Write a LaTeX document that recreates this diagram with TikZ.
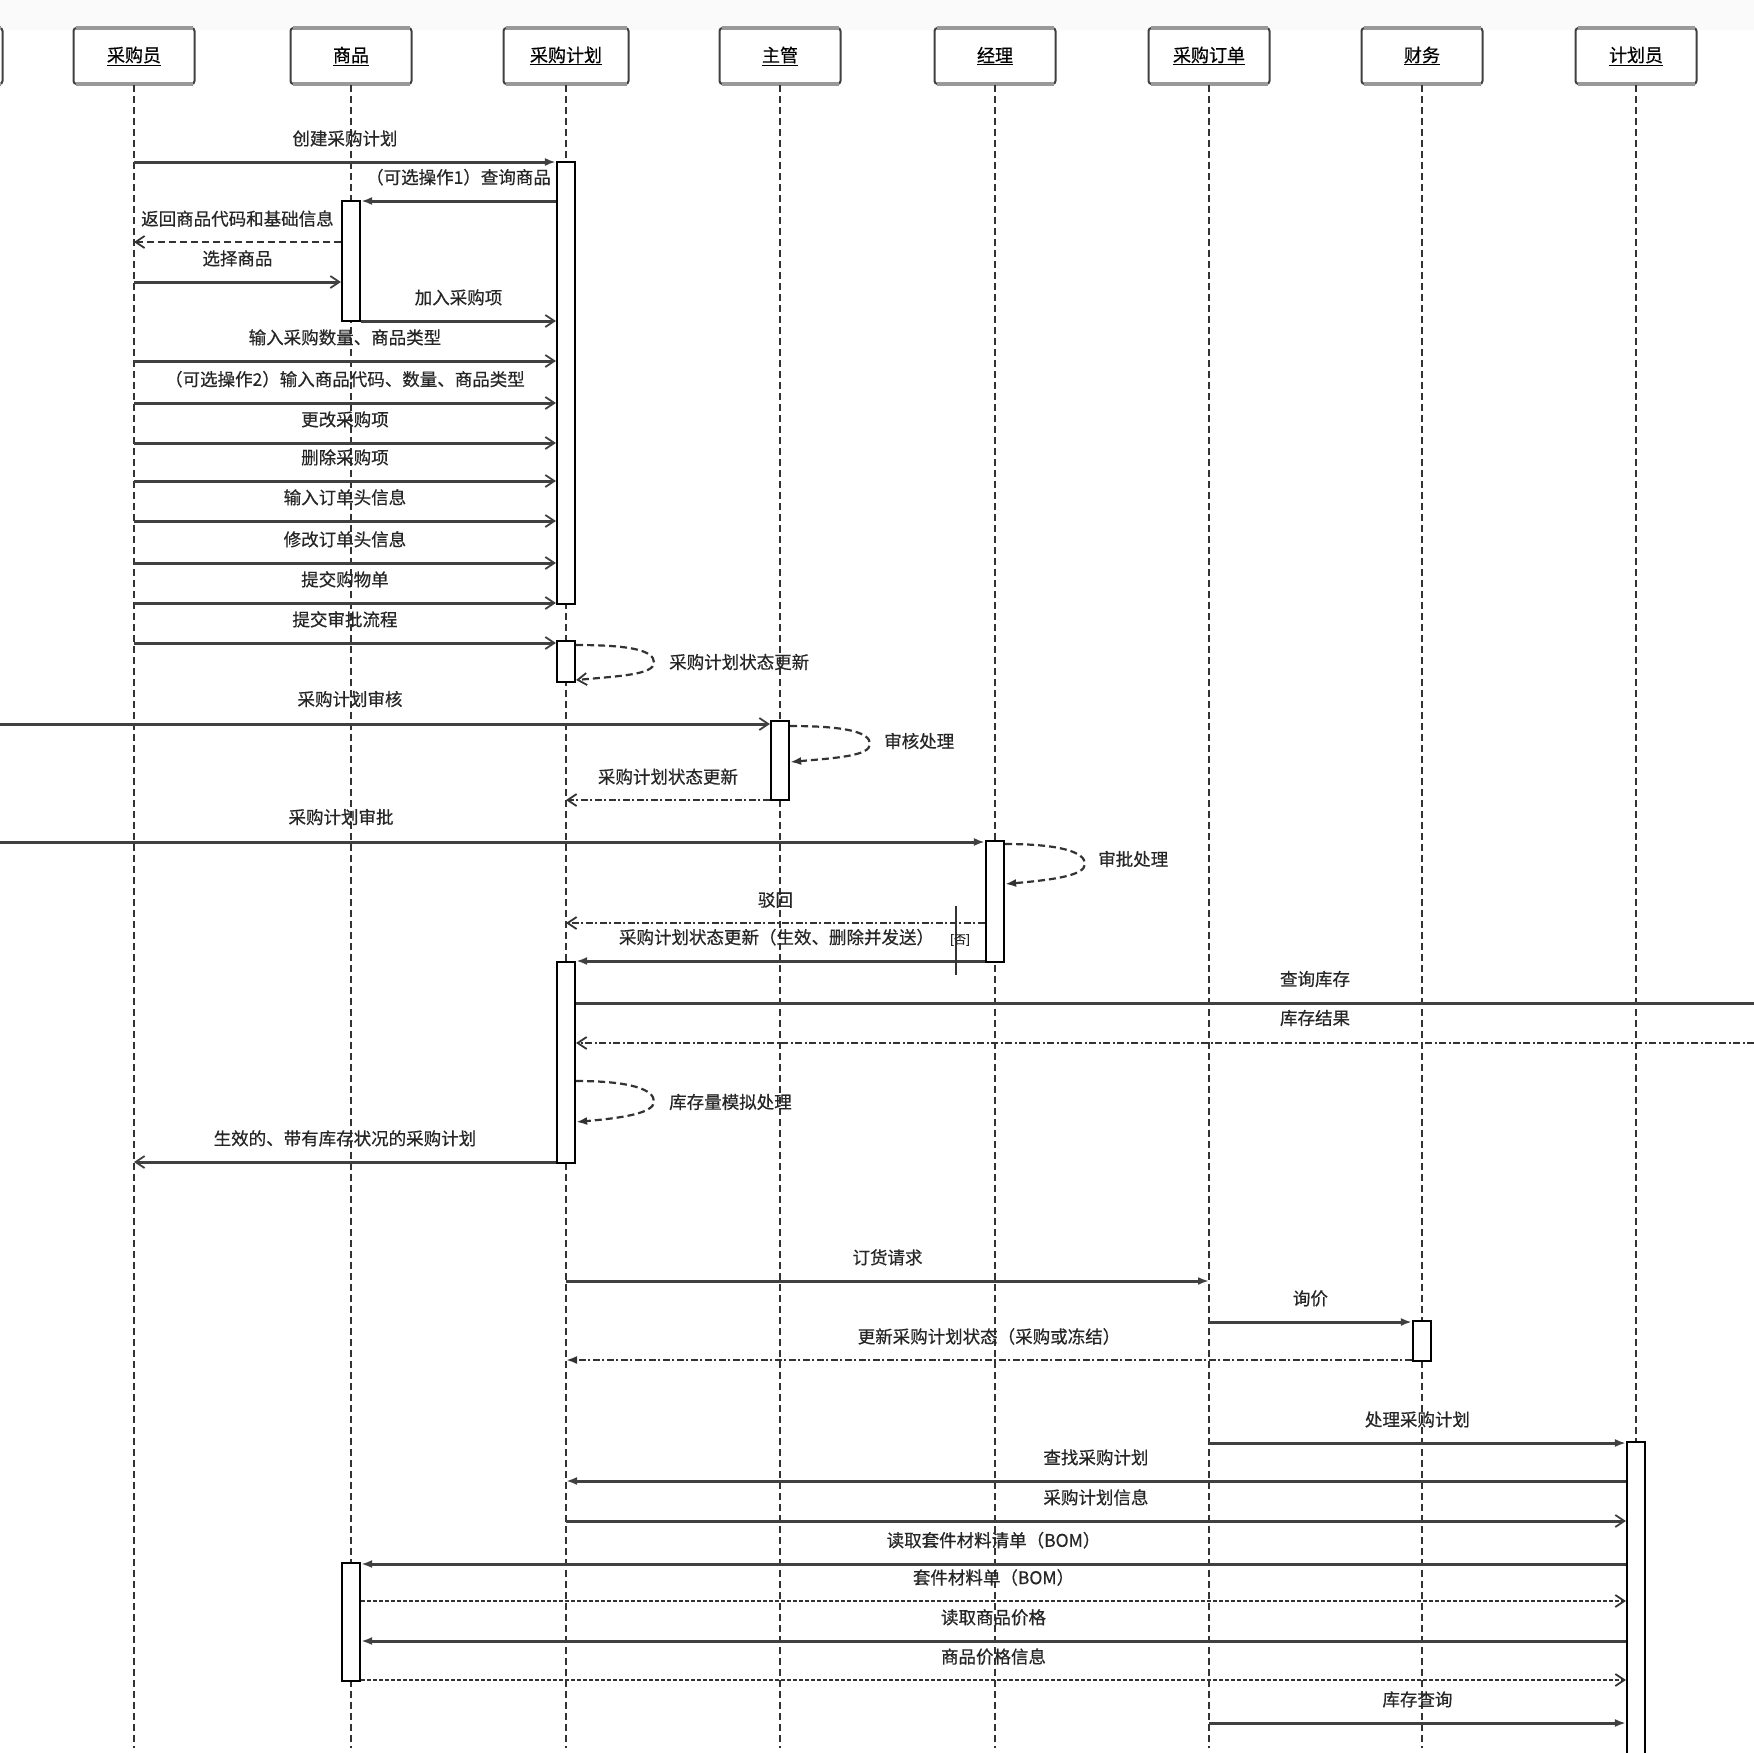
\documentclass[tikz,border=0pt]{standalone}
\usepackage{fontspec}
\setmainfont{Noto Sans CJK SC}[FakeBold=0.6]
\usetikzlibrary{arrows.meta}
\tikzset{
 hdr/.style={draw=black!75, line width=2pt, fill=white, minimum width=121pt, minimum height=56pt, rounded corners=3pt, inner sep=0pt, font=\fontsize{18}{18}\selectfont},
 life/.style={draw=black!80, line width=1.6pt, dash pattern=on 7pt off 4pt},
 act/.style={draw=black, line width=2.2pt, fill=white, minimum width=18pt, inner sep=0pt},
 msg/.style={draw=black!75, line width=3pt},
 ret/.style={draw=black!80, line width=2.4pt, dash pattern=on 7pt off 2.5pt on 2pt off 2.5pt},
 dotm/.style={draw=black!80, line width=2.4pt, dash pattern=on 4pt off 2pt},
 dsh/.style={draw=black!80, line width=2.4pt, dash pattern=on 7pt off 4pt},
 loopd/.style={draw=black!80, line width=2.2pt, dash pattern=on 7pt off 4pt},
 fh/.style={-{Latex[length=11pt,width=8pt]}},
 oh/.style={-{Straight Barb[length=9pt,width=12pt,line width=1.8pt]}},
 lbl/.style={font=\fontsize{17.5}{17.5}\selectfont, inner sep=0pt, text=black!85},
 ab/.style={lbl, above=14pt},
}
\newcommand\sloop[5]{\draw[#1] (#2.east |- 0,#3) .. controls +(55,0) and +(0,-12) .. ({#5},{(#3+#4)/2}) .. controls +(0,12) and +(45,-4) .. (#2.east |- 0,#4);}
\begin{document}
\begin{tikzpicture}[x=1pt,y=-1pt]
\useasboundingbox (0,0) rectangle (1754,1753);
\clip (0,0) rectangle (1754,1753);
\fill[black!2] (0,0) rectangle (1754,30);
% headers
\node[hdr] (L0) at (-58,56) {};
\node[hdr] (L1) at (134,56) {\underline{采购员}};
\node[hdr] (L2) at (351,56) {\underline{商品}};
\node[hdr, minimum width=125pt] (L3) at (566,56) {\underline{采购计划}};
\node[hdr] (L4) at (780,56) {\underline{主管}};
\node[hdr] (L5) at (995,56) {\underline{经理}};
\node[hdr] (L6) at (1209,56) {\underline{采购订单}};
\node[hdr] (L7) at (1422,56) {\underline{财务}};
\node[hdr] (L8) at (1636,56) {\underline{计划员}};
\foreach \n in {L0,L1,L2,L3,L4,L5,L6,L7,L8}{
  \draw[line width=4pt, black!40] ([xshift=3pt,yshift=-1pt]\n.north west) -- ([xshift=-3pt,yshift=-1pt]\n.north east);
  \draw[line width=4pt, black!40] ([xshift=3pt,yshift=1pt]\n.south west) -- ([xshift=-3pt,yshift=1pt]\n.south east);
}
\coordinate (offL) at (0,0);
\coordinate (offR) at (1754,0);
% lifelines
\foreach \n in {L1,L2,L3,L4,L5,L6,L7,L8}{
  \draw[life] (\n.south) -- (\n |- 0,1748);
}
% activations
\node[act, minimum height=442pt] (A1) at (566,383) {};
\node[act, minimum height=120pt] (A2) at (351,261) {};
\node[act, minimum height=41pt] (A3) at (566,661.5) {};
\node[act, minimum height=79pt] (A4) at (780,760.5) {};
\node[act, minimum height=121pt] (A5) at (995,901.5) {};
\node[act, minimum height=201pt] (A6) at (566,1062.5) {};
\node[act, minimum height=40pt] (A7) at (1422,1341) {};
\node[act, minimum height=318pt] (A8) at (1636,1601) {};
\node[act, minimum height=118pt] (A9) at (351,1622) {};
% messages
\draw[msg,fh] (L1 |- 0,162) -- node[ab]{创建采购计划} (A1.west |- 0,162);
\draw[msg,fh] (A1.west |- 0,201) -- node[ab]{（可选操作1）查询商品} (A2.east |- 0,201);
\draw[dsh,oh] (A2.west |- 0,242) -- node[ab]{返回商品代码和基础信息} (L1 |- 0,242);
\draw[msg,oh] (L1 |- 0,282) -- node[ab]{选择商品} (A2.west |- 0,282);
\draw[msg,oh] (A2.east |- 0,321) -- node[ab]{加入采购项} (A1.west |- 0,321);
\draw[msg,oh] (L1 |- 0,361) -- node[ab]{输入采购数量、商品类型} (A1.west |- 0,361);
\draw[msg,oh] (L1 |- 0,403) -- node[ab]{（可选操作2）输入商品代码、数量、商品类型} (A1.west |- 0,403);
\draw[msg,oh] (L1 |- 0,443) -- node[ab]{更改采购项} (A1.west |- 0,443);
\draw[msg,oh] (L1 |- 0,481) -- node[ab]{删除采购项} (A1.west |- 0,481);
\draw[msg,oh] (L1 |- 0,521) -- node[ab]{输入订单头信息} (A1.west |- 0,521);
\draw[msg,oh] (L1 |- 0,563) -- node[ab]{修改订单头信息} (A1.west |- 0,563);
\draw[msg,oh] (L1 |- 0,603) -- node[ab]{提交购物单} (A1.west |- 0,603);
\draw[msg,oh] (L1 |- 0,643) -- node[ab]{提交审批流程} (A3.west |- 0,643);
\sloop{loopd,oh}{A3}{645}{680}{654}
\node[lbl, anchor=west] (t1) at (669,662) {采购计划状态更新};
\draw[msg,oh] (offL |- 0,724) -- (A4.west |- 0,724);
\node[lbl] (t2) at (350,699) {采购计划审核};
\sloop{loopd,fh}{A4}{726}{762}{870}
\node[lbl, anchor=west] (t3) at (884,741) {审核处理};
\draw[ret,oh] (A4.west |- 0,800) -- node[ab]{采购计划状态更新} (L3 |- 0,800);
\draw[msg,fh] (offL |- 0,842) -- (A5.west |- 0,842);
\node[lbl] (t4) at (341,817) {采购计划审批};
\sloop{loopd,fh}{A5}{844}{884}{1085}
\node[lbl, anchor=west] (t5) at (1098,859) {审批处理};
\draw[ret,oh] (A5.west |- 0,923) -- node[ab]{驳回} (L3 |- 0,923);
\draw[msg,fh] (A5.west |- 0,961) -- node[ab, xshift=-4pt]{采购计划状态更新（生效、删除并发送）} (A6.east |- 0,961);
\coordinate (g1) at (956,906);
\coordinate (g2) at (956,975);
\draw[black!80, line width=1.2pt] (g1) -- (g2);
\node[lbl, font=\fontsize{12}{12}\selectfont] (t6) at (960,940) {[否]};
\draw[msg] (A6.east |- 0,1003) -- (offR |- 0,1003);
\node[lbl] (t7) at (1315,979) {查询库存};
\draw[ret,oh] (offR |- 0,1043) -- (A6.east |- 0,1043);
\node[lbl] (t8) at (1315,1018) {库存结果};
\sloop{loopd,fh}{A6}{1081}{1122}{654}
\node[lbl, anchor=west] (t9) at (669,1102) {库存量模拟处理};
\draw[msg,oh] (A6.west |- 0,1162) -- node[ab]{生效的、带有库存状况的采购计划} (L1 |- 0,1162);
\draw[msg,fh] (L3 |- 0,1281) -- node[ab]{订货请求} (L6 |- 0,1281);
\draw[msg,fh] (L6 |- 0,1322) -- node[ab]{询价} (A7.west |- 0,1322);
\draw[ret,fh] (A7.west |- 0,1360) -- node[ab]{更新采购计划状态（采购或冻结）} (L3 |- 0,1360);
\draw[msg,fh] (L6 |- 0,1443) -- node[ab]{处理采购计划} (A8.west |- 0,1443);
\draw[msg,fh] (A8.west |- 0,1481) -- node[ab]{查找采购计划} (L3 |- 0,1481);
\draw[msg,oh] (L3 |- 0,1521) -- node[ab]{采购计划信息} (A8.west |- 0,1521);
\draw[msg,fh] (A8.west |- 0,1564) -- node[ab]{读取套件材料清单（BOM）} (A9.east |- 0,1564);
\draw[dotm,oh] (A9.east |- 0,1601) -- node[ab]{套件材料单（BOM）} (A8.west |- 0,1601);
\draw[msg,fh] (A8.west |- 0,1641) -- node[ab]{读取商品价格} (A9.east |- 0,1641);
\draw[dotm,oh] (A9.east |- 0,1680) -- node[ab]{商品价格信息} (A8.west |- 0,1680);
\draw[msg,fh] (L6 |- 0,1723) -- node[ab]{库存查询} (A8.west |- 0,1723);
\end{tikzpicture}
\end{document}
